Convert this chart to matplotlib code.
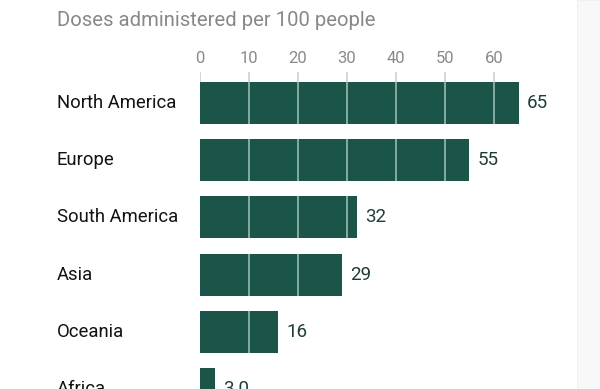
import matplotlib
matplotlib.use("Agg")
import matplotlib.pyplot as plt
from matplotlib.patches import Rectangle

categories = ["North America", "Europe", "South America", "Asia", "Oceania", "Africa"]
values = [65, 55, 32, 29, 16, 3.0]
value_labels = ["65", "55", "32", "29", "16", "3.0"]
ticks = [0, 10, 20, 30, 40, 50, 60]
subtitle = "Doses administered per 100 people"

plt.rcParams["font.family"] = ["Roboto", "DejaVu Sans"]

W, H = 600, 389
fig = plt.figure(figsize=(6, 3.89), dpi=100)
fig.patch.set_facecolor("white")
fig.patches.append(Rectangle((577 / W, 0), 1 - 577 / W, 1, transform=fig.transFigure,
                             facecolor="#f8f8f8", edgecolor="#efefef", lw=0.6, zorder=0))

ax_left, ax_right = 200 / W, 577 / W
ax_top_px = 72
ax = fig.add_axes([ax_left, 0, ax_right - ax_left, 1 - ax_top_px / H])
ax.set_facecolor("none")
ppu = 4.9  # pixels per unit
ax.set_xlim(0, (577 - 200) / ppu)
spacing = 57.2
top = -(103 - ax_top_px) / spacing
bottom = (H - 103) / spacing
ax.set_ylim(bottom, top)

bar_h = 42 / spacing
bar_color = "#1b5448"
ys = list(range(len(categories)))
ax.barh(ys, values, height=bar_h, color=bar_color, zorder=2)

# gridlines inside bars
for y, v in zip(ys, values):
    for t in ticks:
        if 0 < t < v:
            ax.vlines(t, y - bar_h / 2, y + bar_h / 2, color="#8cb3a6", lw=1.3, zorder=3)
# tick marks above first bar
for t in ticks:
    ax.vlines(t, top, ys[0] - bar_h / 2, color="#d0d0d0", lw=1.2, zorder=1)

for y, v, lab in zip(ys, values, value_labels):
    ax.text(v + 8 / ppu, y, lab, va="center", ha="left", fontsize=13.5, color="#1f3d38")

for y, c in zip(ys, categories):
    fig.text(57 / W, 1 - (103 + y * spacing) / H, c, va="center", ha="left",
             fontsize=13.3, color="#121212")

ax.set_xticks(ticks)
ax.xaxis.tick_top()
ax.tick_params(axis="x", length=0, pad=4, labelsize=12, labelcolor="#8a8a8a")
ax.set_yticks([])
for s in ax.spines.values():
    s.set_visible(False)

fig.text(57 / W, 1 - 20 / H, subtitle, va="center", ha="left", fontsize=14.6, color="#888888")

fig.savefig("out.png", dpi=100, facecolor="white")
